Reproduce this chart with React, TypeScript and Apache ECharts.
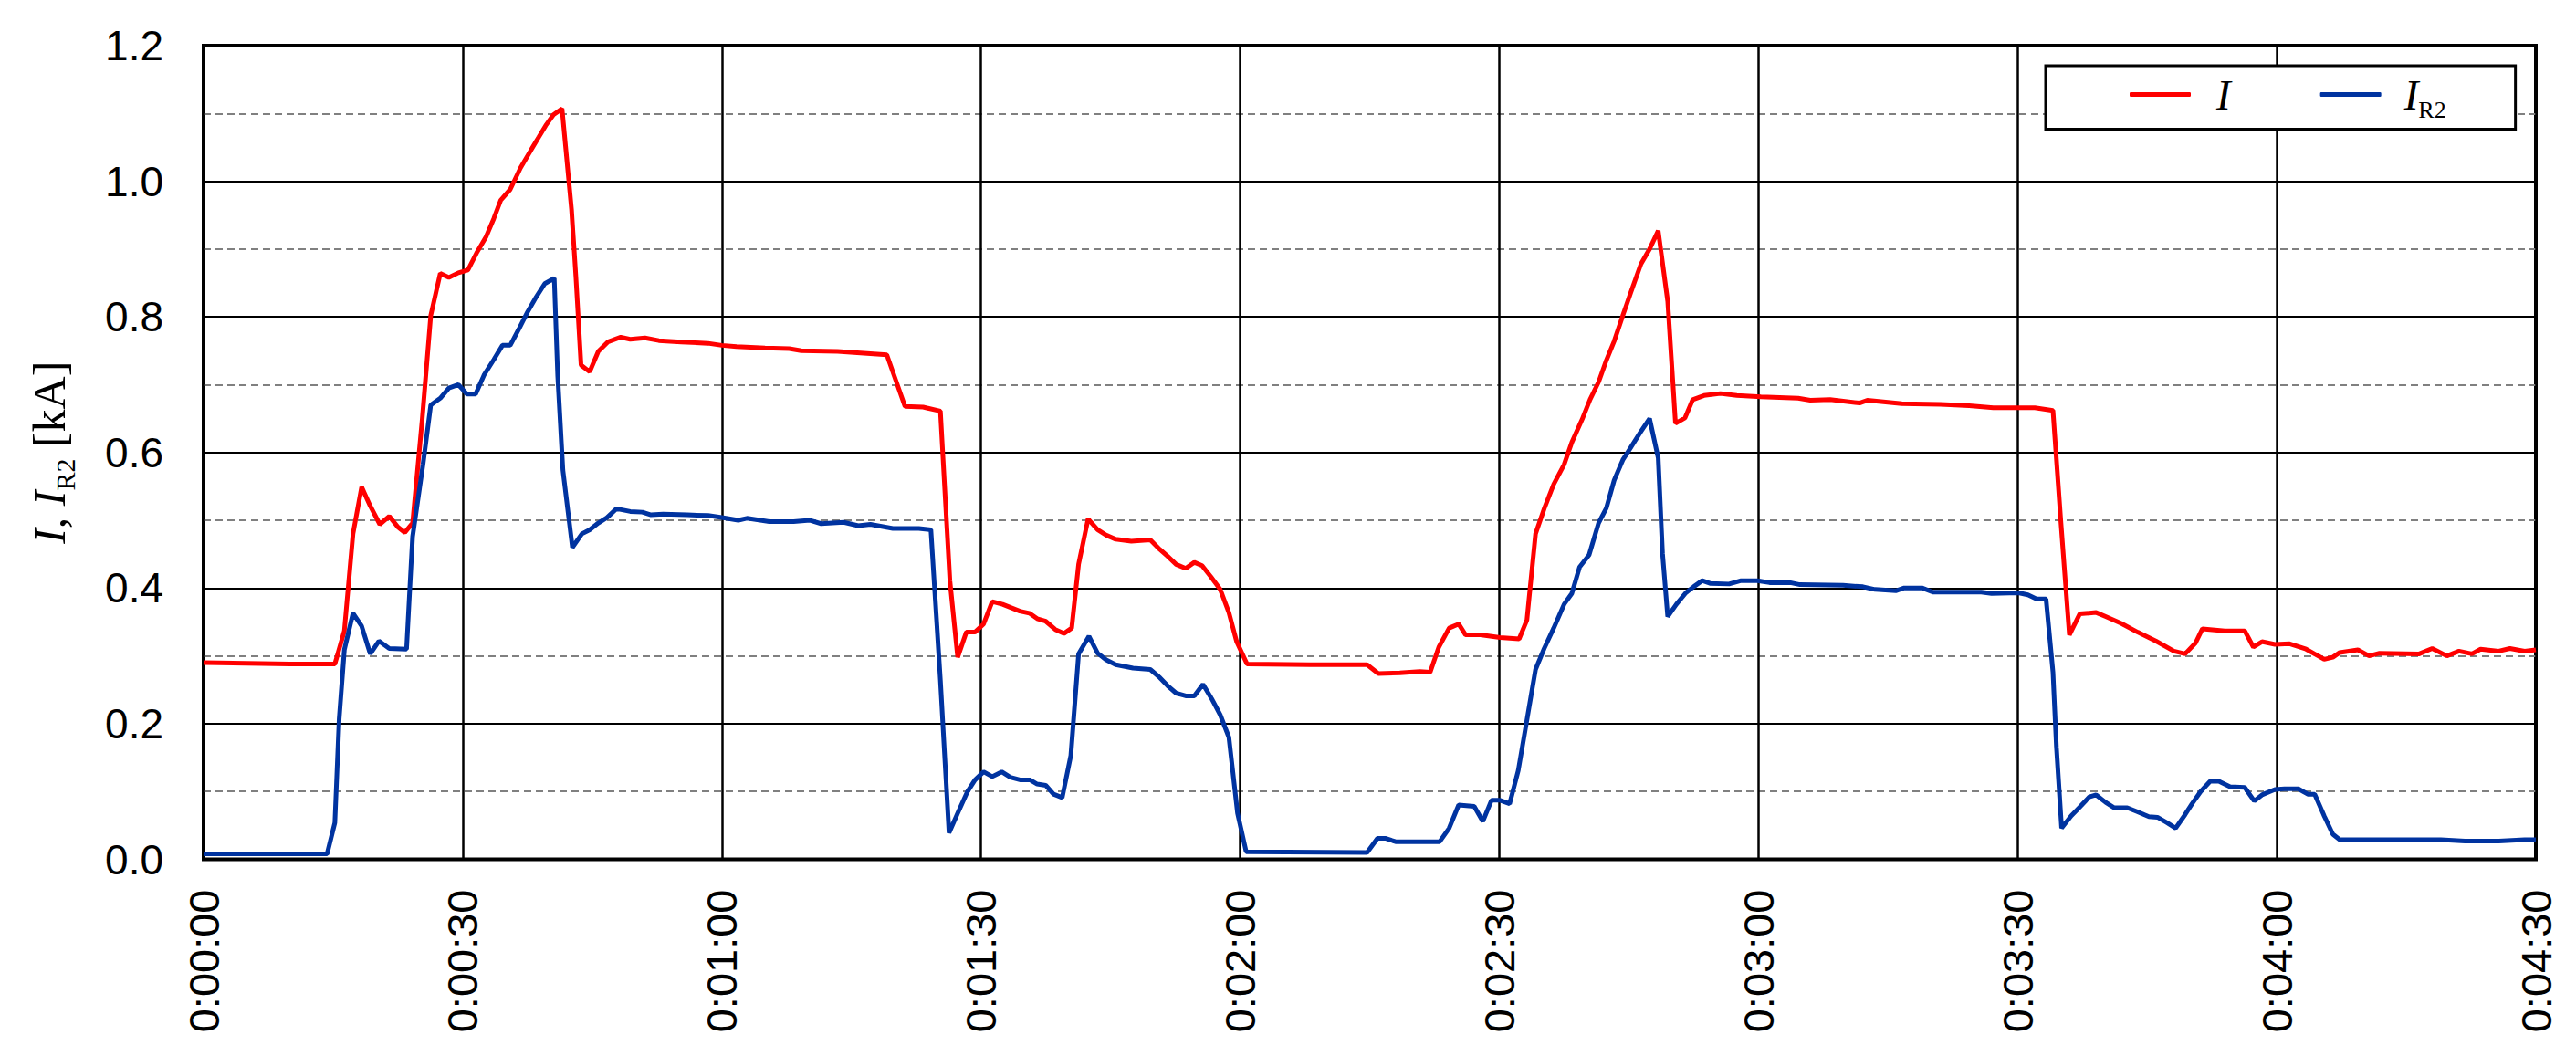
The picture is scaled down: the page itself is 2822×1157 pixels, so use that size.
import React, { useEffect, useRef } from "react";
import * as echarts from "echarts";

// Time in seconds, current in kA
const timeI = [
  0, 5, 10, 15.2, 16.3, 17.3, 18.3, 19.3, 20.4, 21.5, 22.5, 23.3, 24.2, 25.3, 26.3, 27.4, 28.4, 29.5, 30.6, 31.6,
  32.7, 33.6, 34.4, 35.5, 36.7, 37.9, 38.8, 39.6, 40.5, 41.5, 42.6, 43.1, 43.7, 44.7, 45.7, 46.8, 48.3, 49.4, 51.1, 52.7,
  55.3, 58.4, 60.0, 61.7, 65.0, 67.8, 69.2, 73.4, 79.1, 81.2, 83.3, 85.3, 86.4, 87.3, 88.3, 89.3, 90.3, 91.3, 92.5, 94.5,
  95.6, 96.5, 97.5, 98.6, 99.6, 100.5, 101.3, 102.4, 103.5, 104.5, 105.6, 107.4, 109.6, 110.7, 111.6, 112.6, 113.7, 114.7, 115.6, 116.6,
  117.7, 118.7, 119.6, 120.8, 128.1, 134.7, 136.0, 138.5, 140.8, 142.0, 143.0, 144.2, 145.3, 146.1, 147.8, 150.1, 152.3, 153.2, 154.2, 155.2,
  156.3, 157.5, 158.4, 159.6, 160.5, 161.5, 162.4, 163.3, 164.3, 165.2, 166.4, 167.4, 168.4, 169.5, 170.4, 171.5, 172.4, 173.7, 175.6, 177.5,
  180.3, 184.6, 186.0, 188.3, 191.7, 192.6, 196.6, 201.1, 204.4, 207.2, 212.0, 214.1, 215.0, 216.0, 217.2, 219.1, 220.2, 222.0, 223.9, 226.0,
  228.1, 229.4, 230.6, 231.4, 234.0, 236.3, 237.3, 238.3, 239.8, 241.5, 243.4, 245.5, 246.5, 247.3, 249.4, 250.7, 251.9, 256.5, 258.0, 259.7,
  261.1, 262.6, 263.6, 265.7, 267.0, 268.7, 270.0,
];
const valI = [
  0.290, 0.289, 0.288, 0.288, 0.337, 0.480, 0.549, 0.521, 0.494, 0.506, 0.490, 0.482, 0.496, 0.647, 0.802, 0.864, 0.858, 0.865, 0.869, 0.894,
  0.918, 0.945, 0.972, 0.988, 1.020, 1.046, 1.065, 1.082, 1.098, 1.107, 0.958, 0.860, 0.729, 0.719, 0.749, 0.763, 0.770, 0.767, 0.769, 0.765,
  0.763, 0.761, 0.758, 0.756, 0.754, 0.753, 0.750, 0.749, 0.744, 0.668, 0.667, 0.661, 0.411, 0.298, 0.335, 0.335, 0.347, 0.380, 0.376, 0.366,
  0.363, 0.355, 0.351, 0.339, 0.333, 0.341, 0.435, 0.502, 0.486, 0.478, 0.472, 0.469, 0.471, 0.457, 0.447, 0.435, 0.429, 0.438, 0.433, 0.417,
  0.398, 0.364, 0.321, 0.288, 0.287, 0.287, 0.274, 0.275, 0.277, 0.276, 0.313, 0.341, 0.347, 0.331, 0.331, 0.327, 0.325, 0.353, 0.480, 0.517,
  0.553, 0.582, 0.615, 0.649, 0.678, 0.704, 0.736, 0.764, 0.802, 0.835, 0.878, 0.900, 0.927, 0.823, 0.643, 0.651, 0.678, 0.684, 0.687, 0.684,
  0.682, 0.680, 0.677, 0.678, 0.673, 0.677, 0.672, 0.671, 0.669, 0.666, 0.666, 0.662, 0.500, 0.331, 0.362, 0.364, 0.358, 0.348, 0.335, 0.322,
  0.307, 0.303, 0.319, 0.340, 0.337, 0.337, 0.313, 0.321, 0.317, 0.318, 0.310, 0.295, 0.298, 0.305, 0.309, 0.300, 0.304, 0.303, 0.311, 0.300,
  0.307, 0.303, 0.310, 0.307, 0.311, 0.307, 0.309,
];

const timeR2 = [
  0, 14.3, 15.2, 15.7, 16.3, 17.3, 18.3, 19.3, 20.3, 21.5, 23.5, 24.2, 25.4, 26.3, 27.4, 28.4, 29.5, 30.5, 31.5, 32.5,
  33.6, 34.6, 35.5, 36.5, 37.5, 38.5, 39.5, 40.6, 41.0, 41.6, 42.7, 43.8, 44.7, 45.7, 46.7, 47.8, 49.4, 50.8, 51.8, 53.2,
  56.0, 58.4, 60.0, 61.9, 62.9, 65.5, 68.3, 70.2, 71.5, 74.1, 75.8, 77.2, 79.8, 82.8, 84.2, 85.3, 86.3, 87.3, 88.4, 89.3,
  90.3, 91.3, 92.4, 93.4, 94.6, 95.7, 96.5, 97.5, 98.4, 99.4, 100.4, 101.3, 102.5, 103.5, 104.5, 105.6, 107.6, 109.6, 110.7, 111.6,
  112.6, 113.7, 114.7, 115.7, 116.7, 117.7, 118.7, 119.7, 120.7, 134.7, 135.9, 136.8, 138.0, 143.1, 144.2, 145.3, 147.1, 148.1, 149.1, 150.1,
  151.2, 152.2, 153.1, 154.2, 155.2, 156.3, 157.5, 158.4, 159.3, 160.4, 161.5, 162.4, 163.3, 164.3, 165.2, 166.3, 167.4, 168.4, 168.9, 169.5,
  170.5, 171.6, 172.5, 173.5, 174.4, 176.6, 178.0, 179.9, 181.3, 183.7, 184.8, 189.8, 192.1, 193.5, 195.9, 196.8, 199.0, 200.2, 205.8, 207.0,
  210.1, 211.2, 212.2, 213.3, 214.1, 214.5, 215.1, 216.2, 217.2, 218.3, 219.1, 220.2, 221.2, 222.7, 223.9, 225.2, 226.2, 227.3, 228.3, 229.4,
  230.2, 231.2, 232.3, 233.3, 234.6, 236.3, 237.4, 238.3, 239.8, 240.9, 242.5, 243.6, 244.4, 245.5, 246.5, 247.3, 254.9, 259.0, 261.8, 265.7,
  268.7, 270.0,
];
const valR2 = [
  0.008, 0.008, 0.054, 0.207, 0.309, 0.363, 0.344, 0.303, 0.322, 0.311, 0.310, 0.476, 0.582, 0.670, 0.680, 0.695, 0.700, 0.686, 0.686, 0.715,
  0.737, 0.758, 0.758, 0.782, 0.807, 0.829, 0.849, 0.857, 0.713, 0.574, 0.460, 0.480, 0.486, 0.496, 0.504, 0.517, 0.513, 0.512, 0.508, 0.509,
  0.508, 0.507, 0.504, 0.500, 0.503, 0.498, 0.498, 0.500, 0.495, 0.497, 0.492, 0.494, 0.488, 0.488, 0.486, 0.264, 0.039, 0.068, 0.099, 0.117,
  0.129, 0.122, 0.129, 0.121, 0.117, 0.117, 0.111, 0.109, 0.096, 0.091, 0.153, 0.303, 0.329, 0.304, 0.294, 0.287, 0.282, 0.280, 0.268, 0.256,
  0.245, 0.241, 0.241, 0.258, 0.237, 0.213, 0.180, 0.068, 0.011, 0.010, 0.031, 0.031, 0.026, 0.026, 0.046, 0.080, 0.078, 0.056, 0.087, 0.087,
  0.082, 0.131, 0.198, 0.280, 0.311, 0.341, 0.376, 0.392, 0.431, 0.449, 0.496, 0.518, 0.559, 0.589, 0.607, 0.629, 0.650, 0.592, 0.451, 0.358,
  0.376, 0.393, 0.402, 0.411, 0.407, 0.406, 0.411, 0.411, 0.408, 0.408, 0.405, 0.404, 0.402, 0.398, 0.396, 0.400, 0.400, 0.394, 0.394, 0.392,
  0.393, 0.390, 0.384, 0.384, 0.276, 0.166, 0.046, 0.064, 0.077, 0.092, 0.095, 0.084, 0.076, 0.076, 0.070, 0.063, 0.062, 0.054, 0.046, 0.066,
  0.082, 0.100, 0.115, 0.115, 0.107, 0.106, 0.086, 0.095, 0.103, 0.104, 0.104, 0.096, 0.096, 0.064, 0.037, 0.029, 0.029, 0.029, 0.027, 0.027,
  0.029, 0.029,
];

const xTickLabels = [
  "0:00:00", "0:00:30", "0:01:00", "0:01:30", "0:02:00",
  "0:02:30", "0:03:00", "0:03:30", "0:04:00", "0:04:30",
];
const seriesNames = ["I", "IR2"];
const seriesColors = ["#FF0000", "#0033A0"];

const SERIF = "Liberation Serif";
const SANS = "Liberation Sans";

export default function App() {
  const ref = useRef<HTMLDivElement>(null);

  useEffect(() => {
    document.body.style.margin = "0";
    const chart = echarts.init(ref.current!, null, { renderer: "svg" });
    const dataI = timeI.map((t, i) => [t, valI[i]]);
    const dataR2 = timeR2.map((t, i) => [t, valR2[i]]);

    chart.setOption({
      animation: false,
      backgroundColor: "#fff",
      grid: {
        left: 223,
        right: 44,
        top: 50,
        bottom: 215.5,
        show: true,
        borderColor: "#000",
        borderWidth: 4,
        backgroundColor: "transparent",
      },
      legend: {
        data: seriesNames,
        left: 2241,
        top: 72,
        orient: "horizontal",
        icon: "roundRect",
        itemWidth: 67,
        itemHeight: 5,
        itemGap: 98,
        padding: [8, 76, 8, 92],
        borderColor: "#000",
        borderWidth: 3,
        borderRadius: 0,
        backgroundColor: "#fff",
        formatter: (name: string) => (name === "I" ? "{i1|I}" : "{i2|I}{s|R2}"),
        textStyle: {
          color: "#000",
          fontFamily: SERIF,
          rich: {
            i1: { fontFamily: SERIF, fontStyle: "italic", fontSize: 47, lineHeight: 60, color: "#000", padding: [0, 0, 0, 23] },
            i2: { fontFamily: SERIF, fontStyle: "italic", fontSize: 47, lineHeight: 60, color: "#000", padding: [0, 0, 0, 20] },
            s: { fontFamily: SERIF, fontSize: 26, lineHeight: 26, color: "#000", verticalAlign: "bottom" },
          },
        },
      },
      xAxis: {
        type: "value",
        min: 0,
        max: 270,
        interval: 30,
        axisLine: { show: false },
        axisTick: { show: false },
        splitLine: { show: true, lineStyle: { color: "#000", width: 2.5 } },
        axisLabel: {
          rotate: 90,
          fontSize: 47,
          margin: 33,
          color: "#000",
          fontFamily: SANS,
          formatter: (v: number) => xTickLabels[Math.round(v / 30)] ?? "",
        },
      },
      yAxis: {
        type: "value",
        min: 0,
        max: 1.2,
        interval: 0.2,
        name: "{a|I}{n|, }{a|I}{s|R2}{n| [kA]}",
        nameLocation: "middle",
        nameRotate: 90,
        nameGap: 137,
        nameTextStyle: {
          color: "#000",
          fontFamily: SERIF,
          fontSize: 50,
          rich: {
            a: { fontFamily: SERIF, fontStyle: "italic", fontSize: 50, lineHeight: 64, color: "#000" },
            n: { fontFamily: SERIF, fontSize: 50, lineHeight: 64, color: "#000" },
            s: { fontFamily: SERIF, fontSize: 30, lineHeight: 30, color: "#000", verticalAlign: "bottom" },
          },
        },
        axisLine: { show: false },
        axisTick: { show: false },
        splitLine: { show: true, lineStyle: { color: "#000", width: 2 } },
        minorTick: { show: false, splitNumber: 2 },
        minorSplitLine: { show: true, lineStyle: { color: "#808080", width: 2, type: [8, 5] } },
        axisLabel: {
          fontSize: 46,
          margin: 44,
          color: "#000",
          fontFamily: SANS,
          formatter: (v: number) => v.toFixed(1),
        },
      },
      series: [
        {
          name: seriesNames[0],
          type: "line",
          data: dataI,
          symbol: "none",
          showSymbol: false,
          lineStyle: { color: seriesColors[0], width: 5 },
          itemStyle: { color: seriesColors[0] },
        },
        {
          name: seriesNames[1],
          type: "line",
          data: dataR2,
          symbol: "none",
          showSymbol: false,
          lineStyle: { color: seriesColors[1], width: 5 },
          itemStyle: { color: seriesColors[1] },
        },
      ],
    });
    return () => chart.dispose();
  }, []);

  return <div ref={ref} style={{ width: 2822, height: 1157 }} />;
}
